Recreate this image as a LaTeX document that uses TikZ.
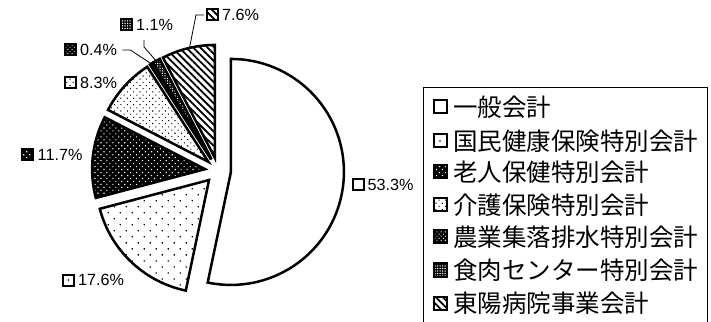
\documentclass[tikz,border=0pt]{standalone}
\usepackage{fontspec}
\setmainfont{Liberation Sans}
\newfontfamily\jpfont{Noto Sans CJK JP}
\usetikzlibrary{calc,patterns.meta}
\newcommand\mkslice[4]{%
  \pgfmathsetmacro\midang{(#2+#3)/2}%
  \coordinate (#1) at ($(C)+(\midang:13pt)$);%
  \draw[slice,#4] (#1) -- ++(#2:113pt) arc[start angle=#2, end angle=#3, radius=113pt] -- cycle;%
}
\begin{document}
\begin{tikzpicture}[x=1pt,y=1pt,
  slice/.style={draw=black,line width=2.5pt},
  leader/.style={draw=black,line width=0.8pt},
  pct/.style={anchor=west,inner sep=0pt,font=\fontsize{16.2}{19}\selectfont},
  mk/.style={draw=black,line width=2pt,minimum size=11pt,inner sep=0pt},
  lgmk/.style={mk,minimum size=13pt},
  lgtxt/.style={anchor=west,inner sep=0pt,font=\jpfont\fontsize{24.5}{28}\selectfont},
  legbox/.style={draw=black,line width=0.9pt},
  f533/.style={fill=white},
  f176/.style={pattern={Dots[angle=45,distance=8.5pt,radius=0.9pt]},pattern color=black},
  f176m/.style={fill=white,path picture={\fill[black] (path picture bounding box.center) circle (0.9pt);}},
  f117/.style={preaction={fill=black},pattern={Dots[angle=45,distance=4.2pt,radius=0.8pt]},pattern color=white},
  f83/.style={pattern={Dots[angle=45,distance=4.5pt,radius=0.75pt]},pattern color=black},
  f04/.style={preaction={fill=black},pattern={Dots[angle=45,distance=3pt,radius=0.7pt]},pattern color=white},
  f11/.style={preaction={fill=black},pattern={Dots[distance=2.5pt,radius=0.75pt]},pattern color=white},
  f76/.style={pattern={Lines[angle=-45,distance=5pt,line width=1.8pt]},pattern color=black},
]
\useasboundingbox (0,0) rectangle (711,321);
\coordinate (C) at (218,150.4);
% pie slices (clockwise from top)
\mkslice{a533}{90}{-101.88}{f533}
\mkslice{a176}{-101.88}{-165.24}{f176}
\mkslice{a117}{-165.24}{-207.36}{f117}
\mkslice{a83}{-207.36}{-237.24}{f83}
\mkslice{a04}{-237.24}{-238.68}{f04}
\mkslice{a11}{-238.68}{-242.64}{f11}
\mkslice{a76}{-242.64}{-270}{f76}
% leader end points on the rim
\coordinate (e04) at ($(a04)+(122:113pt)$);
\coordinate (e11) at ($(a11)+(119.4:113pt)$);
\coordinate (e76) at ($(a76)+(103:113pt)$);
% data labels
\node[mk,f533] (m533) at (358,136) {};
\node[pct] (t533) at (367.5,136) {53.3\%};
\node[mk,f176m] (m176) at (68.5,41) {};
\node[pct] (t176) at (78,41) {17.6\%};
\node[mk,f117] (m117) at (27.5,166) {};
\node[pct] (t117) at (37.5,166) {11.7\%};
\node[mk,f83] (m83) at (70.5,238) {};
\node[pct] (t83) at (80,238) {8.3\%};
\node[mk,f04] (m04) at (70,271) {};
\node[pct] (t04) at (80,271) {0.4\%};
\node[mk,f11] (m11) at (126,296) {};
\node[pct] (t11) at (136,296) {1.1\%};
\node[mk,f76] (m76) at (212.5,306) {};
\node[pct] (t76) at (222,306) {7.6\%};
% leader lines
\coordinate (l11) at (144,281);
\draw[leader] (t04.east) ++(5,0) -- ++(8,0) -- (e04);
\draw[leader] (l11) -- ++(0,-7) -- (e11);
\draw[leader] (m76.west) ++(-2,0) -- ++(-8,0) -- (e76);
% legend
\draw[legbox] (423,-3) |- (707,234) -- (707,-3);
\node[lgmk,f533] (g1) at (440,214) {};
\node[lgtxt] (h1) at (453,214) {一般会計};
\node[lgmk,f176m] (g2) at (440,180) {};
\node[lgtxt] (h2) at (453,180) {国民健康保険特別会計};
\node[lgmk,f117] (g3) at (440,149) {};
\node[lgtxt] (h3) at (453,149) {老人保健特別会計};
\node[lgmk,f83] (g4) at (440,116) {};
\node[lgtxt] (h4) at (453,116) {介護保険特別会計};
\node[lgmk,f04] (g5) at (440,84) {};
\node[lgtxt] (h5) at (453,84) {農業集落排水特別会計};
\node[lgmk,f11] (g6) at (440,51) {};
\node[lgtxt] (h6) at (453,51) {食肉センター特別会計};
\node[lgmk,f76] (g7) at (440,18) {};
\node[lgtxt] (h7) at (453,18) {東陽病院事業会計};
\end{tikzpicture}
\end{document}
